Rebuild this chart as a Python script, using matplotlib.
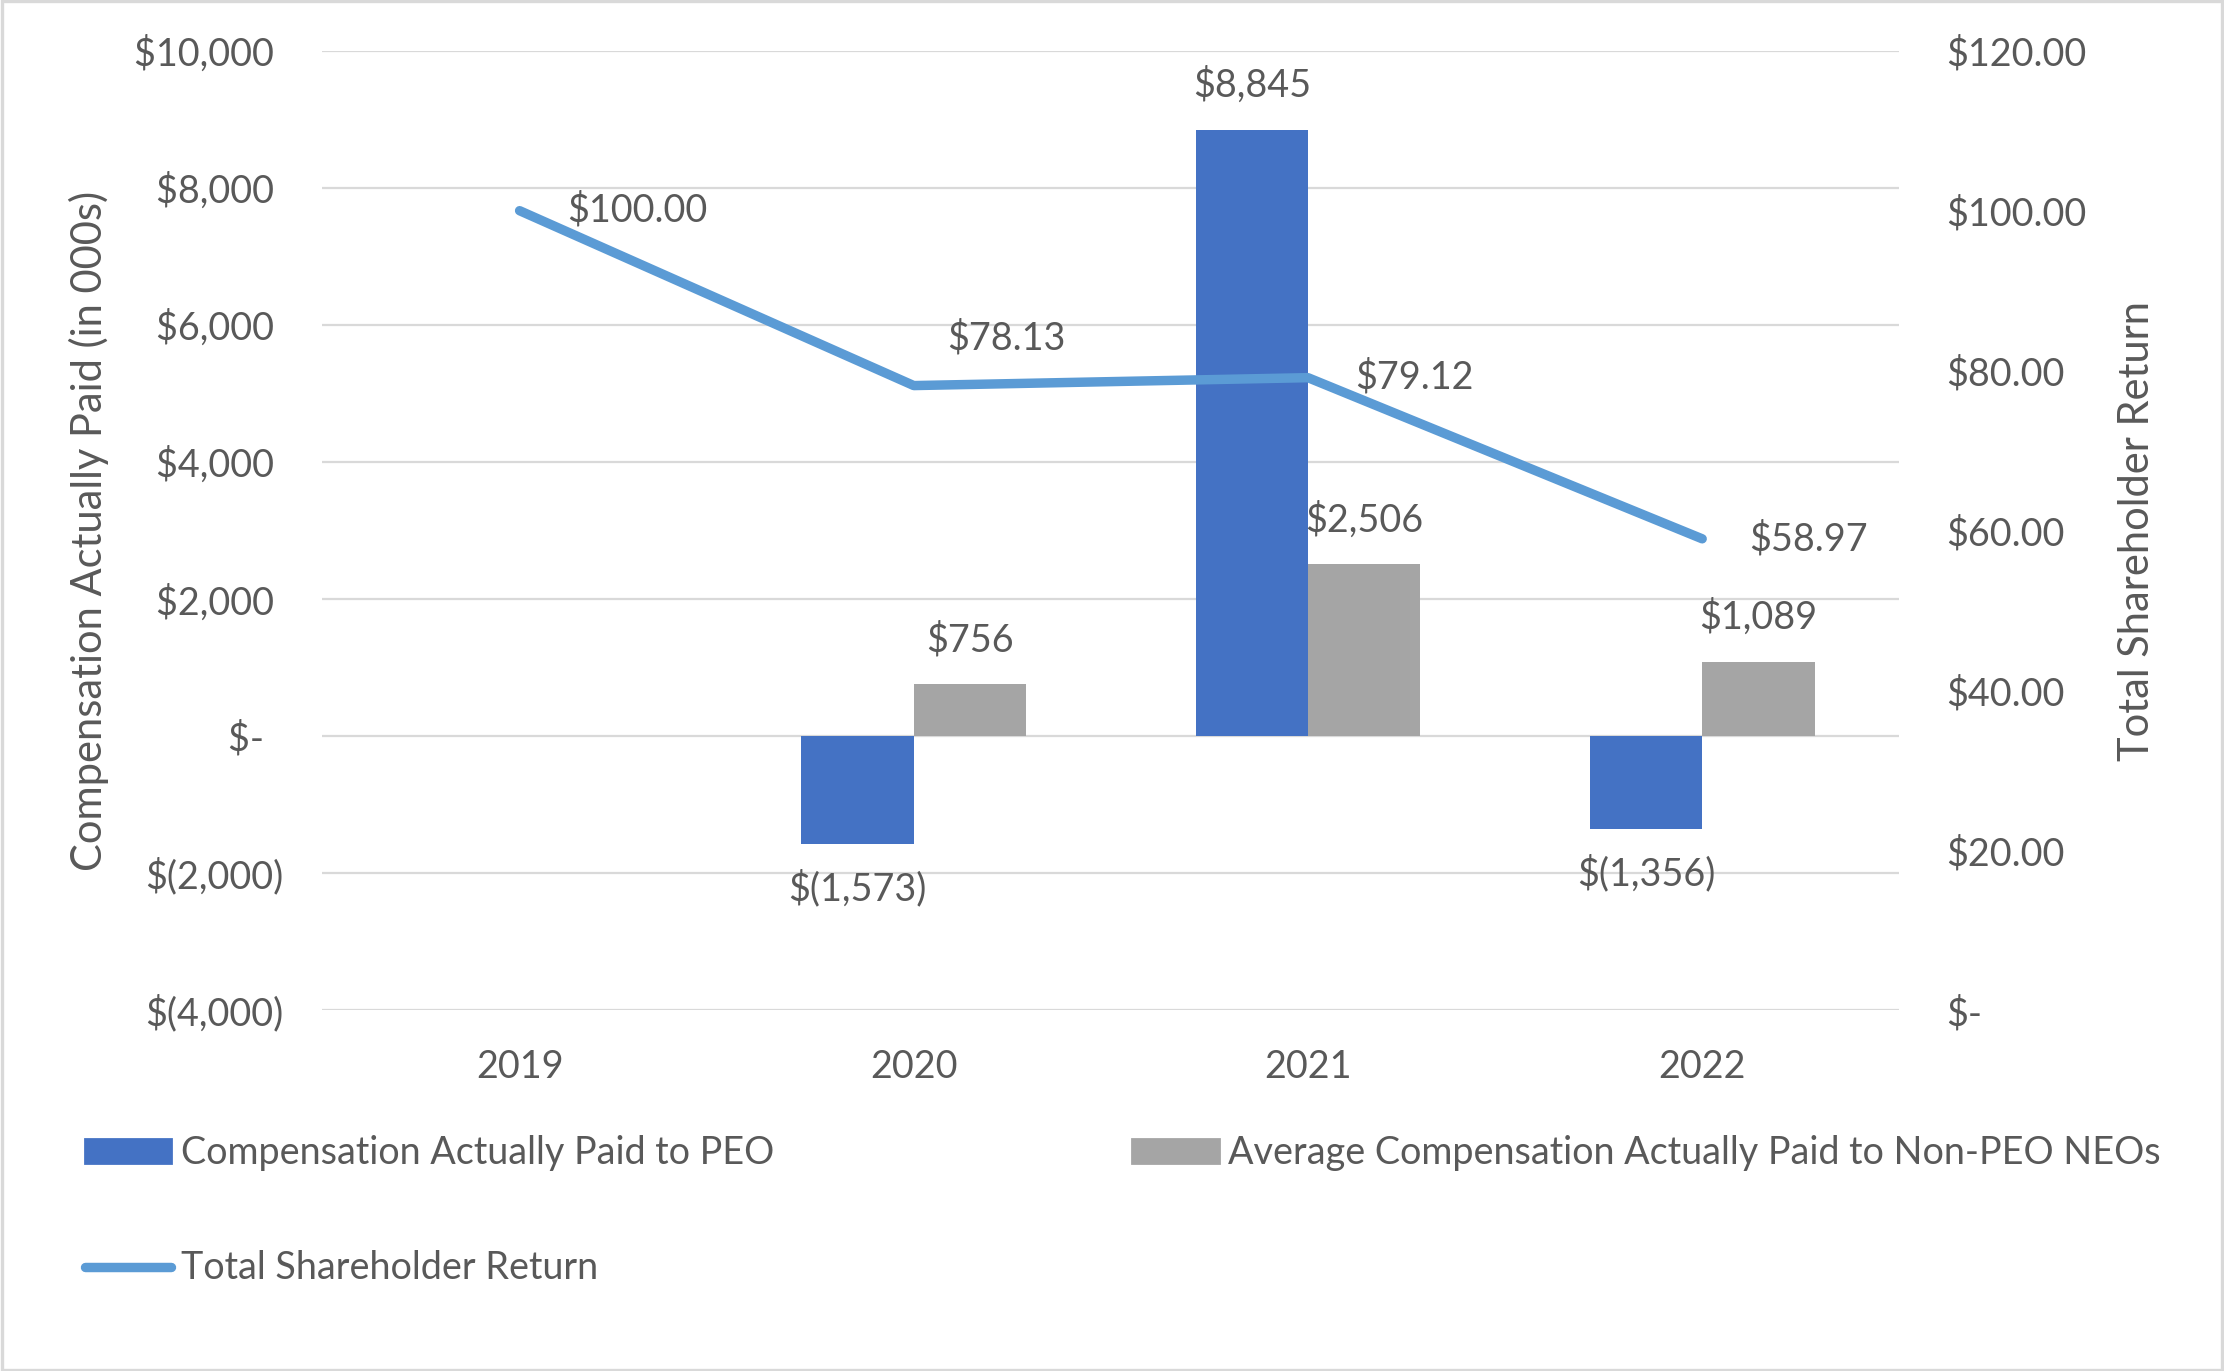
import numpy as np
import matplotlib.pyplot as plt
from matplotlib.patches import Rectangle
from matplotlib.lines import Line2D
from matplotlib.patches import Patch

years = ['2019', '2020', '2021', '2022']
peo_cap = [np.nan, -1573, 8845, -1356]
neo_cap = [np.nan, 756, 2506, 1089]
tsr = [100.00, 78.13, 79.12, 58.97]

left_ticks = [-4000, -2000, 0, 2000, 4000, 6000, 8000, 10000]
right_ticks = [0, 20, 40, 60, 80, 100, 120]

blue = '#4472C4'
grey = '#A5A5A5'
line_blue = '#5B9BD5'
txt = '#595959'
fs = 13.6

plt.rcParams['font.family'] = ['Lato', 'DejaVu Sans']


def money(v):
    if v == 0:
        return '$-  '
    if v < 0:
        return '$({:,.0f})'.format(-v)
    return '${:,.0f} '.format(v)


def money2(v):
    if v == 0:
        return '$-'
    return '${:,.2f}'.format(v)


fig = plt.figure(figsize=(11.12, 6.855), dpi=200)
ax = fig.add_axes([0.145, 0.263, 0.709, 0.7])
x = np.arange(len(years))
w = 0.285

ax.bar(x - w / 2, peo_cap, w, color=blue, zorder=2)
ax.bar(x + w / 2, neo_cap, w, color=grey, zorder=2)
ax.set_xlim(-0.5, len(years) - 0.5)
ax.set_ylim(-4000, 10000)
ax.set_yticks(left_ticks)
ax.set_yticklabels([money(v) for v in left_ticks])
ax.set_xticks(x)
ax.set_xticklabels(years)
ax.grid(axis='y', color='#D9D9D9', linewidth=0.8, zorder=0)
ax.set_axisbelow(True)
for s in ax.spines.values():
    s.set_visible(False)
ax.tick_params(axis='y', length=0, pad=14, labelsize=fs, labelcolor=txt)
ax.tick_params(axis='x', length=0, pad=14, labelsize=fs, labelcolor=txt)

for xs, vals in ((x - w / 2, peo_cap), (x + w / 2, neo_cap)):
    for xi, v in zip(xs, vals):
        if np.isnan(v):
            continue
        off = 16 if v > 0 else -16
        ax.annotate(money(v).strip(), (xi, v), xytext=(0, off), textcoords='offset points',
                    ha='center', va='center', fontsize=fs, color=txt)

ax2 = ax.twinx()
ax2.plot(x, tsr, color=line_blue, linewidth=3.4, solid_capstyle='round', zorder=3)
ax2.set_ylim(0, 120)
ax2.set_yticks(right_ticks)
ax2.set_yticklabels([money2(v) for v in right_ticks])
for s in ax2.spines.values():
    s.set_visible(False)
ax2.tick_params(axis='y', length=0, pad=17, labelsize=fs, labelcolor=txt)

tsr_offsets = [(17, 0), (12, 17), (17, 0), (17, 0)]
for xi, v, off in zip(x, tsr, tsr_offsets):
    ax2.annotate(money2(v), (xi, v), xytext=off, textcoords='offset points',
                 ha='left', va='center', fontsize=fs, color=txt)

fig.text(0.040, 0.613, 'Compensation Actually Paid (in 000s)', rotation=90,
         ha='center', va='center', fontsize=15, color=txt)
fig.text(0.961, 0.613, 'Total Shareholder Return', rotation=90,
         ha='center', va='center', fontsize=15, color=txt)

entries = [
    (Patch(color=blue), 'Compensation Actually Paid to PEO', (0.038, 0.159)),
    (Patch(color=grey), 'Average Compensation Actually Paid to Non-PEO NEOs', (0.509, 0.159)),
    (Line2D([], [], color=line_blue, linewidth=3.4, solid_capstyle='round'),
     'Total Shareholder Return', (0.038, 0.075)),
]
for h, lab, pos in entries:
    leg = fig.legend([h], [lab], loc='center left', bbox_to_anchor=pos, frameon=False,
                     borderpad=0, borderaxespad=0, handlelength=2.3, handleheight=0.6,
                     handletextpad=0.25, fontsize=fs)
    for t in leg.get_texts():
        t.set_color(txt)

fig.patches.append(Rectangle((0.001, 0.001), 0.998, 0.998, transform=fig.transFigure,
                             fill=False, edgecolor='#D9D9D9', linewidth=1.2))

fig.savefig('out.png', dpi=200, facecolor='white')
